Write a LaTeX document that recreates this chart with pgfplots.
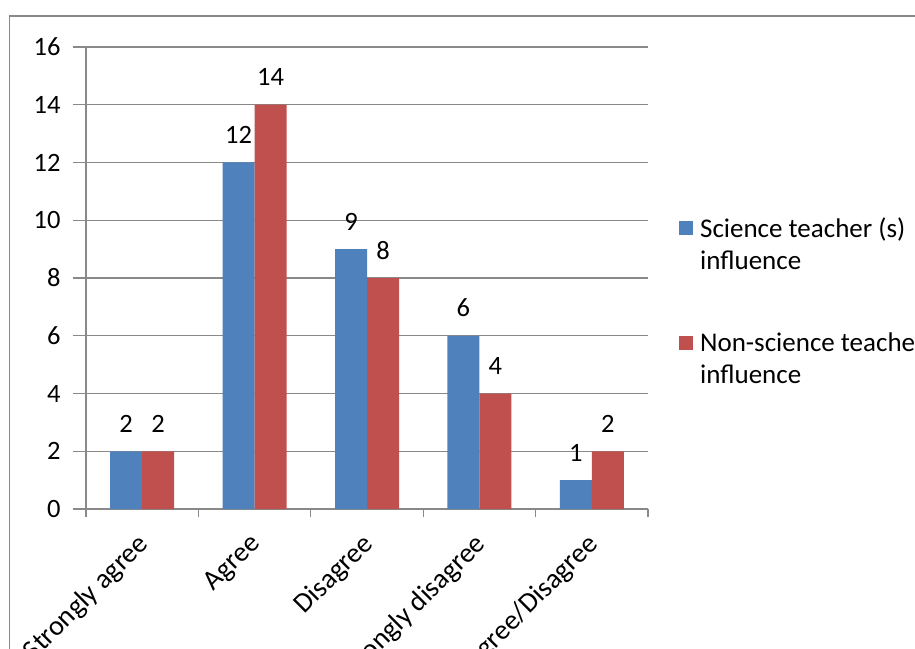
\documentclass[border=0pt]{standalone}
\usepackage{pgfplots}
\pgfplotsset{compat=1.18}
\usepackage{fontspec}
\setmainfont{Carlito}
\definecolor{xblue}{HTML}{4F81BD}
\definecolor{xred}{HTML}{C0504D}
\definecolor{xgrid}{HTML}{898989}
\begin{document}
\begin{tikzpicture}[font=\fontsize{26}{32}\selectfont]
\useasboundingbox (0pt,0pt) rectangle (915pt,648pt);
\draw[xgrid, line width=1.5pt] (9.5pt,-60pt) -- (9.5pt,632pt) -- (1000pt,632pt);
\begin{axis}[
  at={(86pt,139pt)}, anchor=south west,
  scale only axis, width=562pt, height=462pt,
  xmin=-0.5, xmax=4.5, ymin=0, ymax=16,
  ybar=0pt, bar width=32pt,
  /pgf/number format/assume math mode=true,
  axis x line*=bottom, axis y line*=left,
  axis line style={xgrid, line width=1.3pt, -},
  ymajorgrids, grid style={xgrid, line width=1.3pt},
  ytick={0,2,...,16},
  tick align=outside,
  major tick length=13pt,
  tick style={xgrid, line width=1.3pt},
  xtick={-0.5,0.5,...,4.5}, xticklabels={},
  xtick style={/pgfplots/major tick length=8pt},
  extra x ticks={0,1,2,3,4},
  extra x tick labels={Strongly agree, Agree, Disagree, Strongly disagree, Neither Agree/Disagree},
  extra x tick style={major tick length=0pt, tick style={draw=none},
    xticklabel style={rotate=45, anchor=north east, xshift=-17pt, yshift=-8pt,
      font=\fontsize{28}{34}\selectfont}},
  yticklabel style={font=\fontsize{26.5}{32}\selectfont, xshift=-9pt},
  nodes near coords,
  every node near coord/.append style={anchor=base, yshift=19pt, black, font=\fontsize{26.5}{32}\selectfont},
  legend style={at={(1.055,0.636)}, anchor=north west, draw=none, fill=none,
    inner sep=0pt, row sep=57pt, column sep=5pt,
    font=\fontsize{27}{32}\selectfont,
    cells={anchor=west, align=left}},
  legend image code/.code={\fill[#1] (0pt,8.5pt) rectangle (14pt,22.5pt);},
]
\addplot[fill=xblue, draw=none] coordinates {(0,2) (1,12) (2,9) (3,6) (4,1)};
\addplot[fill=xred, draw=none] coordinates {(0,2) (1,14) (2,8) (3,4) (4,2)};
\addlegendentry{Science teacher (s)\\influence}
\addlegendentry{Non-science teacher (s)\\influence}
\end{axis}
\end{tikzpicture}
\end{document}
